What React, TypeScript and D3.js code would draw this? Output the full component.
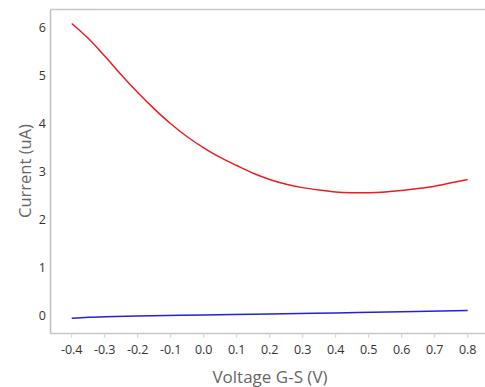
import React from "react";
import * as d3 from "d3";

const voltage = [-0.4, -0.35, -0.3, -0.25, -0.2, -0.15, -0.1, -0.05, 0.0, 0.05, 0.1, 0.15, 0.2, 0.25, 0.3, 0.35, 0.4, 0.45, 0.5, 0.55, 0.6, 0.65, 0.7, 0.75, 0.8];
const redCurrent = [6.08, 5.77, 5.4, 5.01, 4.64, 4.3, 3.99, 3.72, 3.49, 3.29, 3.12, 2.96, 2.83, 2.73, 2.66, 2.61, 2.57, 2.555, 2.555, 2.57, 2.6, 2.64, 2.69, 2.76, 2.83];
const blueVoltage = [-0.4, -0.35, -0.3, -0.2, 0.0, 0.2, 0.4, 0.6, 0.8];
const blueCurrent = [-0.06, -0.04, -0.028, -0.013, 0.008, 0.028, 0.05, 0.072, 0.1];
const xTicks = [-0.4, -0.3, -0.2, -0.1, 0.0, 0.1, 0.2, 0.3, 0.4, 0.5, 0.6, 0.7, 0.8];
const yTicks = [0, 1, 2, 3, 4, 5, 6];

const W = 485;
const H = 387;
const left = 50.5;
const right = 485;
const top = 9.5;
const bottom = 333.5;

export default function App() {
  const x = d3.scaleLinear().domain([-0.4, 0.8]).range([71.7, 467.7]);
  const y = d3.scaleLinear().domain([0, 6]).range([315.3, 27.3]);
  const line = d3
    .line<[number, number]>()
    .x((d) => x(d[0]))
    .y((d) => y(d[1]))
    .curve(d3.curveCatmullRom.alpha(0.5));
  const red = line(voltage.map((v, i) => [v, redCurrent[i]] as [number, number])) || "";
  const blue = line(blueVoltage.map((v, i) => [v, blueCurrent[i]] as [number, number])) || "";
  const font = "'Open Sans', 'Noto Sans', sans-serif";
  return (
    <svg width={W} height={H} style={{ position: "absolute", left: 0, top: 0, background: "#fff" }} fontFamily={font}>
      <line x1={left} x2={right} y1={top} y2={top} stroke="#c8c8c8" strokeWidth={1.5} />
      <line x1={left} x2={left} y1={top} y2={bottom} stroke="#c0c0c0" strokeWidth={1.5} />
      <line x1={left} x2={right} y1={bottom} y2={bottom} stroke="#c8c8c8" strokeWidth={1.5} />
      {xTicks.map((t) => (
        <g key={t}>
          <line x1={x(t)} x2={x(t)} y1={bottom + 1} y2={bottom + 4} stroke="#c8c8c8" strokeWidth={1} />
          <text x={x(t)} y={353.5} textAnchor="middle" fontSize={12.5} fill="#333">
            {t.toFixed(1)}
          </text>
        </g>
      ))}
      {yTicks.map((t) => (
        <text key={t} x={46} y={y(t) + 4.5} textAnchor="end" fontSize={12.5} fill="#333">
          {t}
        </text>
      ))}
      <text x={270} y={383} textAnchor="middle" fontSize={17} fill="#666">
        Voltage G-S (V)
      </text>
      <text transform={`translate(31,171) rotate(-90)`} textAnchor="middle" fontSize={16.5} fill="#666">
        Current (uA)
      </text>
      <path d={red} fill="none" stroke="#ee1c1c" strokeWidth={1.5} />
      <path d={blue} fill="none" stroke="#2222dd" strokeWidth={1.5} />
    </svg>
  );
}
